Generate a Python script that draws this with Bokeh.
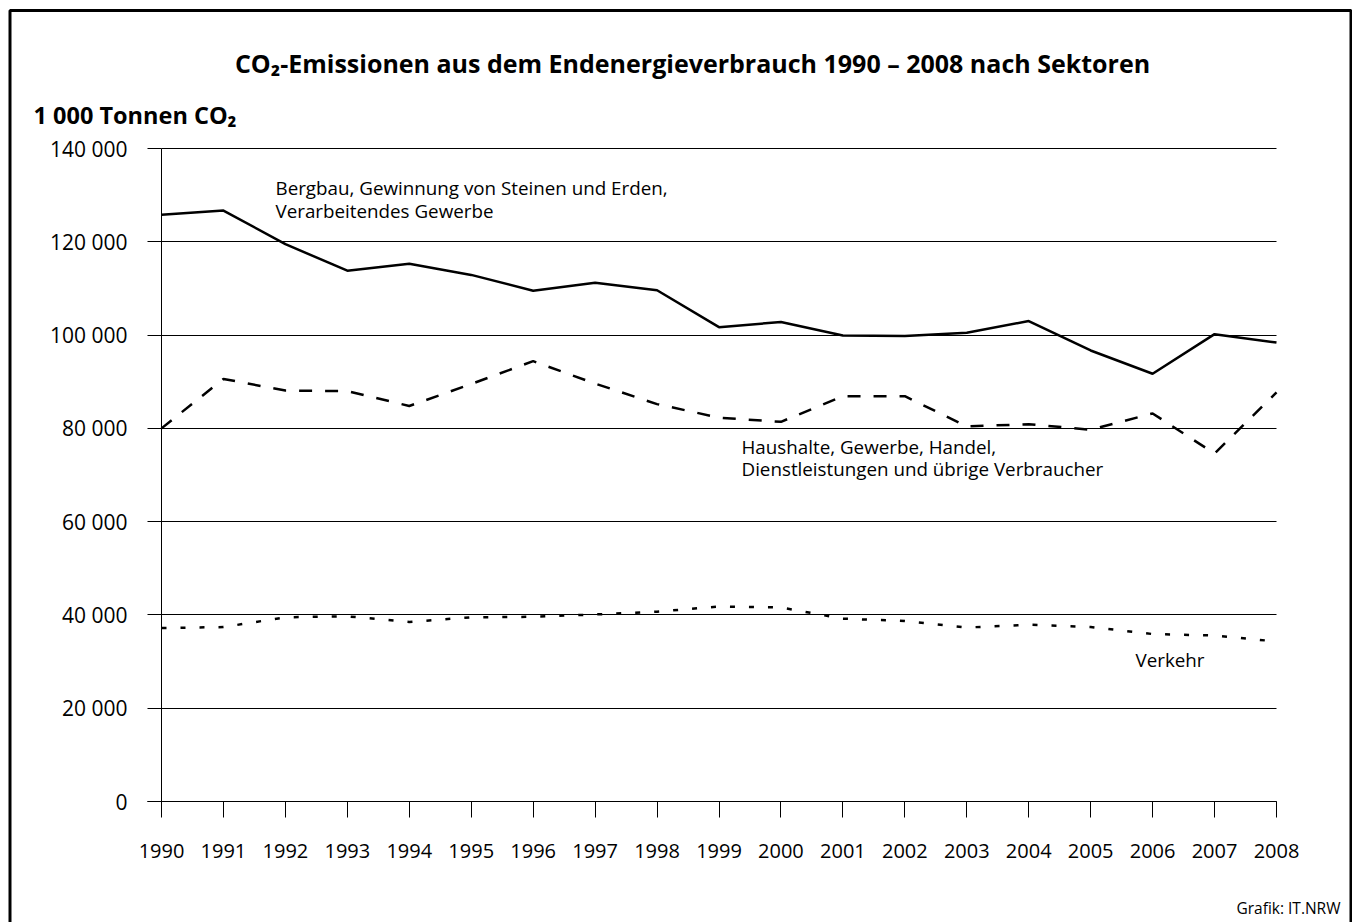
from bokeh.plotting import figure
from bokeh.models import Range1d, FixedTicker, Label, BoxAnnotation, LinearAxis, Grid
from bokeh.embed import file_html
from bokeh.resources import INLINE

# ---------------- data ----------------
years = list(range(1990, 2009))
bergbau = [125800, 126700, 119500, 113800, 115300, 112900, 109500, 111200, 109600,
           101700, 102800, 99900, 99800, 100500, 103000, 96700, 91700, 100200, 98400]
haushalte = [80000, 90600, 88100, 88000, 84800, 89500, 94400, 89600, 85200,
             82300, 81400, 86900, 86900, 80400, 80900, 79700, 83200, 74600, 87700]
verkehr = [37200, 37400, 39500, 39700, 38500, 39500, 39600, 40100, 40700,
           41800, 41600, 39200, 38700, 37300, 37900, 37400, 35900, 35600, 34300]
ytick_values = [0, 20000, 40000, 60000, 80000, 100000, 120000, 140000]
ytick_labels = ["0", "20 000", "40 000", "60 000", "80 000", "100 000", "120 000", "140 000"]

title_text = "CO\u2082-Emissionen aus dem Endenergieverbrauch 1990 \u2013 2008 nach Sektoren"
unit_text = "1 000 Tonnen CO\u2082"
label_bergbau = ["Bergbau, Gewinnung von Steinen und Erden,", "Verarbeitendes Gewerbe"]
label_haushalte = ["Haushalte, Gewerbe, Handel,", "Dienstleistungen und übrige Verbraucher"]
label_verkehr = "Verkehr"
source_text = "Grafik: IT.NRW"

# ---------------- layout (canvas pixels) ----------------
FIG_W, FIG_H = 1352, 922
X_FIRST_PX, X_LAST_PX = 161, 1276
Y_ZERO_PX, Y_TOP_PX = 801, 148
TICK_LEFT_PX = 147
YMAX = ytick_values[-1]
PX_PER_YEAR = (X_LAST_PX - X_FIRST_PX) / (years[-1] - years[0])


def dx(px):
    return years[0] + (px - X_FIRST_PX) / PX_PER_YEAR


def dy(py):
    return (Y_ZERO_PX - py) / (Y_ZERO_PX - Y_TOP_PX) * YMAX


FONT = "Open Sans"

p = figure(width=FIG_W, height=FIG_H, output_backend="svg", toolbar_location=None,
           x_range=Range1d(dx(0), dx(FIG_W)), y_range=Range1d(dy(FIG_H), dy(0)),
           x_axis_location=None, y_axis_location=None,
           min_border=0, min_border_left=0, min_border_right=0,
           min_border_top=0, min_border_bottom=0)
p.outline_line_color = None
p.background_fill_color = "white"
p.border_fill_color = "white"
p.grid.visible = False

# horizontal grid lines
grid_kw = dict(dimension=1, ticker=FixedTicker(ticks=ytick_values), bounds=(0, YMAX),
               grid_line_color="black", grid_line_width=1)
if "cross_bounds" in Grid.properties():
    p.add_layout(Grid(cross_bounds=(years[0], years[-1]), **grid_kw))
    tick_len = X_FIRST_PX - TICK_LEFT_PX
    y_loc = years[0]
else:
    tick_len = X_LAST_PX - TICK_LEFT_PX
    y_loc = years[-1]

# y axis (labels + short tick extensions of the grid)
ya = LinearAxis(fixed_location=y_loc, bounds=(0, YMAX), ticker=FixedTicker(ticks=ytick_values))
ya.major_label_overrides = dict(zip(ytick_values, ytick_labels))
ya.axis_line_color = None
ya.major_tick_out = tick_len
ya.major_tick_in = 0
ya.major_tick_line_color = "black"
ya.major_tick_line_width = 1
ya.minor_tick_line_color = None
ya.major_label_standoff = 20
ya.major_label_text_font = FONT
ya.major_label_text_font_size = "21px"
ya.major_label_text_baseline = "alphabetic"
ya.major_label_text_color = "black"
p.add_layout(ya, "left")

# vertical axis line at first year
ya2 = LinearAxis(fixed_location=years[0], bounds=(0, YMAX), ticker=FixedTicker(ticks=ytick_values))
ya2.axis_line_color = "black"
ya2.axis_line_width = 1
ya2.major_tick_line_color = None
ya2.minor_tick_line_color = None
ya2.major_label_text_alpha = 0
ya2.major_label_text_font_size = "1px"
p.add_layout(ya2, "left")

# x axis at zero
xa = LinearAxis(fixed_location=0, bounds=(dx(TICK_LEFT_PX), years[-1]), ticker=FixedTicker(ticks=years))
xa.major_label_overrides = {y: str(y) for y in years}
xa.major_tick_out = 16
xa.major_tick_in = 0
xa.minor_tick_line_color = None
xa.major_tick_line_color = "black"
xa.major_tick_line_width = 1
xa.axis_line_color = "black"
xa.axis_line_width = 1
xa.major_label_standoff = 26
xa.major_label_text_font = FONT
xa.major_label_text_font_size = "20px"
xa.major_label_text_color = "black"
p.add_layout(xa, "below")

# series
p.line(years, bergbau, line_color="black", line_width=2.5)
p.line(years, haushalte, line_color="black", line_width=2.5, line_dash="13 13")
p.line(years, verkehr, line_color="black", line_width=2.5, line_dash="5 14")


def add_label(text, px, py, size, bold=False, align="left"):
    p.add_layout(Label(x=dx(px), y=dy(py), text=text, text_font=FONT,
                       text_font_size=size, text_font_style="bold" if bold else "normal",
                       text_align=align, text_baseline="middle", text_color="black"))


add_label(title_text, 692, 62, "25px", bold=True, align="center")
add_label(unit_text, 33, 114, "23.5px", bold=True)
add_label(label_bergbau[0], 275, 187, "18.8px")
add_label(label_bergbau[1], 275, 210, "18.8px")
add_label(label_haushalte[0], 741, 446, "18.8px")
add_label(label_haushalte[1], 741, 468, "18.8px")
add_label(label_verkehr, 1135, 659, "18.8px")
add_label(source_text, 1340, 907, "15.5px", align="right")

# outer frame of the graphic
p.add_layout(BoxAnnotation(left=dx(9.5), right=dx(1350.5), top=dy(10), bottom=dy(960),
                           fill_alpha=0, line_color="black", line_alpha=1.0, line_width=3,
                           level="overlay"))

open("out.html", "w").write(file_html(p, INLINE))
